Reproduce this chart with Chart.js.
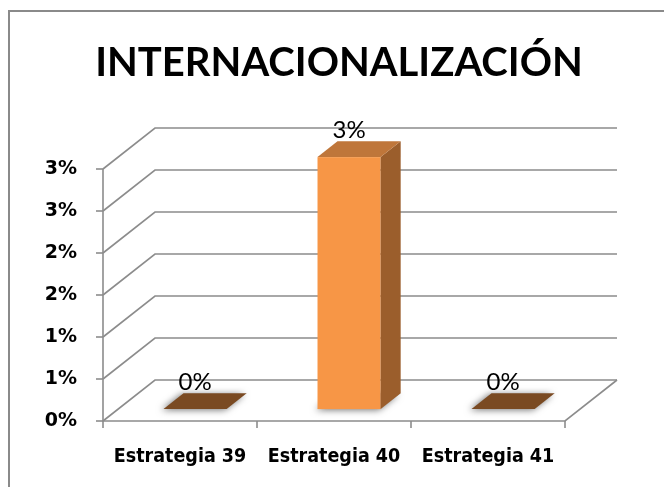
<!DOCTYPE html>
<html>
<head>
<meta charset="utf-8">
<script src="https://cdn.jsdelivr.net/npm/chart.js@4.4.0/dist/chart.umd.min.js"></script>
<style>
html,body{margin:0;padding:0;background:#fff;}
#wrap{position:relative;width:664px;height:487px;}
canvas{display:block;}
</style>
</head>
<body>
<div id="wrap"><canvas id="c" width="664" height="487"></canvas></div>
<script>
const titleText = 'INTERNACIONALIZACIÓN';
const categories = ['Estrategia 39', 'Estrategia 40', 'Estrategia 41'];
const values = [0, 0.03, 0];
const yTickLabels = ['0%', '1%', '1%', '2%', '2%', '3%', '3%'];
const valueLabels = ['0%', '3%', '0%'];

const DX = 52, DY = -41;      // depth offset of the back wall
const F1 = 0.29, F2 = 0.675;  // bar front/back depth fractions
const GRID = '#8c8c8c';

const threeD = {
  id: 'threeD',
  beforeDraw(chart) {
    const ctx = chart.ctx;
    ctx.save();
    ctx.fillStyle = '#fff';
    ctx.fillRect(0, 0, chart.width, chart.height);
    ctx.strokeStyle = '#8a8a8a';
    ctx.lineWidth = 2;
    ctx.beginPath();
    ctx.moveTo(9, 487); ctx.lineTo(9, 11); ctx.lineTo(664, 11);
    ctx.stroke();
    ctx.restore();
  },
  beforeDatasetsDraw(chart) {
    const ctx = chart.ctx;
    const ys = chart.scales.y;
    const a = chart.chartArea;
    ctx.save();
    ctx.strokeStyle = GRID;
    ctx.lineWidth = 1.6;
    ys.ticks.forEach(t => {
      const y = ys.getPixelForValue(t.value);
      ctx.beginPath();
      ctx.moveTo(a.left, y);
      ctx.lineTo(a.left + DX, y + DY);
      ctx.lineTo(a.right + DX, y + DY);
      ctx.stroke();
      ctx.beginPath();
      ctx.moveTo(a.left - 7, y);
      ctx.lineTo(a.left, y);
      ctx.stroke();
    });
    const y0 = ys.getPixelForValue(0);
    const yTop = ys.getPixelForValue(ys.max);
    ctx.beginPath();
    ctx.moveTo(a.left, yTop); ctx.lineTo(a.left, y0);
    ctx.lineTo(a.right, y0); ctx.lineTo(a.right + DX, y0 + DY);
    ctx.stroke();
    const n = categories.length;
    for (let i = 0; i <= n; i++) {
      const x = a.left + (a.right - a.left) * i / n;
      ctx.beginPath();
      ctx.moveTo(x, y0); ctx.lineTo(x, y0 + 7);
      ctx.stroke();
    }
    ctx.restore();
  },
  afterDatasetsDraw(chart) {
    const ctx = chart.ctx;
    const ys = chart.scales.y;
    const meta = chart.getDatasetMeta(0);
    const base = ys.getPixelForValue(0);
    const ddx = (F2 - F1) * DX, ddy = (F2 - F1) * DY;
    ctx.save();
    meta.data.forEach((el, i) => {
      const w = el.width;
      const x0 = el.x - w / 2 + F1 * DX, x1 = x0 + w;
      const yT = el.y + F1 * DY, yB = base + F1 * DY;
      const flat = values[i] === 0;
      ctx.save();
      ctx.shadowColor = 'rgba(0,0,0,0.55)';
      ctx.shadowBlur = 7;
      ctx.shadowOffsetX = -2;
      ctx.shadowOffsetY = 1;
      ctx.fillStyle = flat ? '#7a4a22' : '#b8b8b8';
      ctx.beginPath();
      ctx.moveTo(x0, yB); ctx.lineTo(x0 + ddx, yB + ddy);
      ctx.lineTo(x1 + ddx, yB + ddy); ctx.lineTo(x1, yB);
      ctx.closePath(); ctx.fill();
      ctx.restore();
      if (!flat) {
        ctx.fillStyle = '#f79646';
        ctx.fillRect(x0, yT, w, yB - yT);
        ctx.fillStyle = '#9b5e2c';
        ctx.beginPath();
        ctx.moveTo(x1, yT); ctx.lineTo(x1 + ddx, yT + ddy);
        ctx.lineTo(x1 + ddx, yB + ddy); ctx.lineTo(x1, yB);
        ctx.closePath(); ctx.fill();
        ctx.fillStyle = '#bf763a';
        ctx.beginPath();
        ctx.moveTo(x0, yT); ctx.lineTo(x0 + ddx, yT + ddy);
        ctx.lineTo(x1 + ddx, yT + ddy); ctx.lineTo(x1, yT);
        ctx.closePath(); ctx.fill();
      }
      ctx.fillStyle = '#000';
      ctx.font = '24px Lato';
      ctx.textAlign = 'center';
      ctx.textBaseline = 'alphabetic';
      ctx.fillText(valueLabels[i], (x0 + x1) / 2, yT + ddy - 3);
    });
    ctx.restore();
  }
};

new Chart(document.getElementById('c'), {
  type: 'bar',
  data: {
    labels: categories,
    datasets: [{
      data: values,
      backgroundColor: 'rgba(0,0,0,0)',
      borderWidth: 0,
      barPercentage: 0.41,
      categoryPercentage: 1
    }]
  },
  options: {
    responsive: false,
    animation: false,
    devicePixelRatio: 1,
    layout: { padding: { left: 14, right: 0, top: 43, bottom: 0 } },
    plugins: {
      legend: { display: false },
      tooltip: { enabled: false },
      title: {
        display: true,
        text: titleText,
        color: '#000',
        font: { family: 'Lato', size: 40, weight: 'bold', lineHeight: 1 },
        padding: { top: 0, bottom: 86 }
      }
    },
    scales: {
      x: {
        offset: true,
        grid: { display: false, drawTicks: false },
        border: { display: false },
        ticks: { color: '#000', padding: 24, font: { family: "'DejaVu Sans Condensed', 'DejaVu Sans'", size: 19.5, weight: 'bold' } },
        afterFit(s) { s.height = 66; }
      },
      y: {
        min: 0, max: 0.03,
        grid: { display: false, drawTicks: false },
        border: { display: false },
        ticks: {
          stepSize: 0.005,
          color: '#000',
          padding: 26,
          font: { family: "'DejaVu Sans'", size: 19, weight: 'bold' },
          callback: (v, i) => yTickLabels[i]
        },
        afterFit(s) { s.width = 89; }
      },
      y2: {
        position: 'right',
        display: true,
        grid: { display: false, drawTicks: false },
        border: { display: false },
        ticks: { display: false },
        afterFit(s) { s.width = 99; }
      }
    }
  },
  plugins: [threeD]
});
</script>
</body>
</html>
